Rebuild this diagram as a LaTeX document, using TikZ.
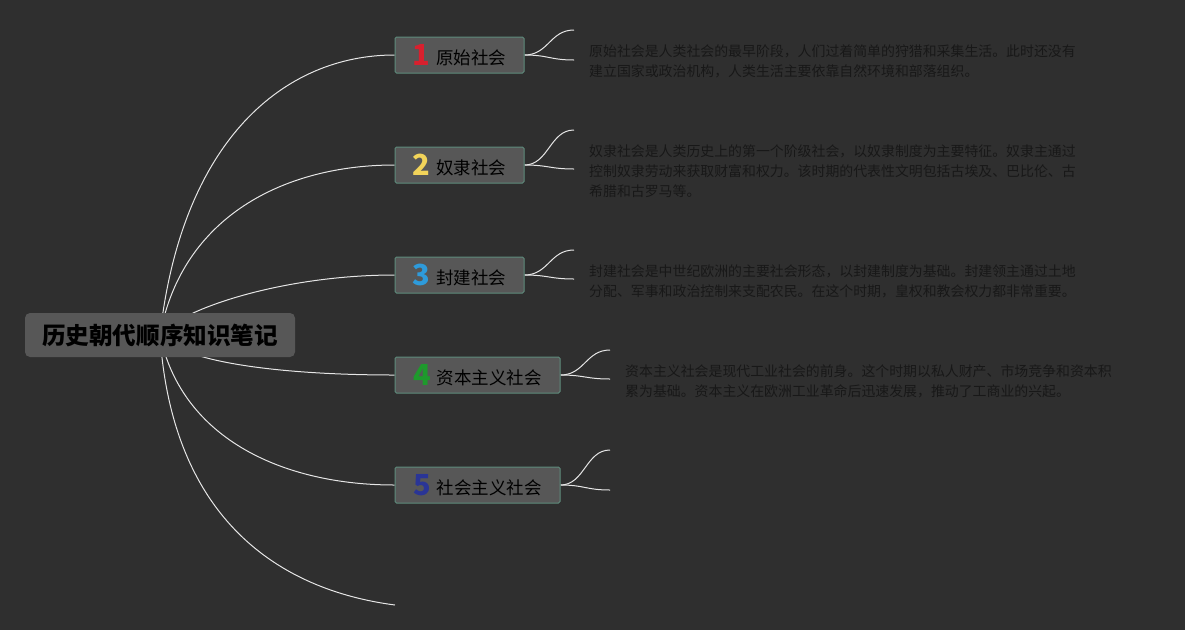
\documentclass[tikz,border=0pt]{standalone}
\usepackage{fontspec}
\setmainfont{Noto Sans CJK SC}
\usetikzlibrary{backgrounds}
\definecolor{bg}{HTML}{2F2F2F}
\definecolor{boxfill}{HTML}{575757}
\definecolor{boxline}{HTML}{5E8C7C}
\definecolor{wire}{HTML}{E6E6E6}
\definecolor{desc}{HTML}{181818}
\definecolor{nred}{HTML}{D8202E}
\definecolor{nyellow}{HTML}{F2D45A}
\definecolor{nblue}{HTML}{2E9BDB}
\definecolor{ngreen}{HTML}{1E9A2C}
\definecolor{nnavy}{HTML}{2A3596}
\tikzset{
  rootbox/.style={fill=boxfill, rounded corners=5pt, minimum width=270pt, minimum height=44pt,
    inner sep=0pt, font=\fontsize{23.6}{28}\selectfont\bfseries, text=black},
  topicbox/.style={fill=boxfill, draw=boxline, line width=1pt, rounded corners=1.5pt,
    minimum height=36pt, inner sep=0pt, font=\fontsize{17.5}{20}\selectfont, text=black},
  descbox/.style={anchor=west, inner sep=0pt, align=left, text=desc,
    font=\fontsize{13.9}{20}\selectfont},
  branch/.style={draw=wire, line width=1pt},
  num/.style={font=\fontsize{29}{30}\selectfont\bfseries}
}
\newcommand{\topiclabel}[3]{\raisebox{-1pt}{\textcolor{#1}{\fontsize{29}{30}\selectfont\bfseries #2}}\hspace{6pt}#3}
\begin{document}
\begin{tikzpicture}[x=1pt,y=-1pt]
\useasboundingbox (0,0) rectangle (1185,630);

\node[rootbox] (root) at (160,335) {历史朝代顺序知识笔记};

\node[topicbox, minimum width=129pt] (t1) at (459.5,55) {\topiclabel{nred}{1}{原始社会}};
\node[topicbox, minimum width=129pt] (t2) at (459.5,165) {\topiclabel{nyellow}{2}{奴隶社会}};
\node[topicbox, minimum width=129pt] (t3) at (459.5,275) {\topiclabel{nblue}{3}{封建社会}};
\node[topicbox, minimum width=165pt] (t4) at (477.5,375) {\topiclabel{ngreen}{4}{资本主义社会}};
\node[topicbox, minimum width=165pt] (t5) at (477.5,485) {\topiclabel{nnavy}{5}{社会主义社会}};
\coordinate (t6) at (395,605);

\node[descbox] (d1) at (589,61) {原始社会是人类社会的最早阶段，人们过着简单的狩猎和采集生活。此时还没有\\建立国家或政治机构，人类生活主要依靠自然环境和部落组织。};
\node[descbox] (d2) at (589,171) {奴隶社会是人类历史上的第一个阶级社会，以奴隶制度为主要特征。奴隶主通过\\控制奴隶劳动来获取财富和权力。该时期的代表性文明包括古埃及、巴比伦、古\\希腊和古罗马等。};
\node[descbox] (d3) at (589,281) {封建社会是中世纪欧洲的主要社会形态，以封建制度为基础。封建领主通过土地\\分配、军事和政治控制来支配农民。在这个时期，皇权和教会权力都非常重要。};
\node[descbox] (d4) at (625,381) {资本主义社会是现代工业社会的前身。这个时期以私人财产、市场竞争和资本积\\累为基础。资本主义在欧洲工业革命后迅速发展，推动了工商业的兴起。};

% sub-branch end points
\coordinate (u1) at (574,30);  \coordinate (l1) at (574,60);
\coordinate (u2) at (574,130); \coordinate (l2) at (574,169);
\coordinate (u3) at (574,250); \coordinate (l3) at (574,279);
\coordinate (u4) at (610,350); \coordinate (l4) at (610,379);
\coordinate (u5) at (610,450); \coordinate (l5) at (610,490);

\begin{pgfonlayer}{background}
\fill[bg] (0,0) rectangle (1185,630);
\draw[branch] (root.center) .. controls (182,139) and (285,55) .. (t1.west);
\draw[branch] (root.center) .. controls (182,216) and (285,165) .. (t2.west);
\draw[branch] (root.center) .. controls (182,308) and (285,275) .. (t3.west);
\draw[branch] (root.center) .. controls (182,363) and (285,375) .. (t4.west);
\draw[branch] (root.center) .. controls (182,440) and (285,485) .. (t5.west);
\draw[branch] (root.center) .. controls (172,520) and (280,590) .. (t6);
\foreach \i in {1,2,3} {
  \draw[branch] (t\i.east) .. controls +(24,0) and +(-24,0) .. (u\i);
  \draw[branch] (t\i.east) .. controls +(24,0) and +(-24,0) .. (l\i);
}
\foreach \i in {4,5} {
  \draw[branch] (t\i.east) .. controls +(24,0) and +(-24,0) .. (u\i);
  \draw[branch] (t\i.east) .. controls +(24,0) and +(-24,0) .. (l\i);
}
\end{pgfonlayer}
\end{tikzpicture}
\end{document}
